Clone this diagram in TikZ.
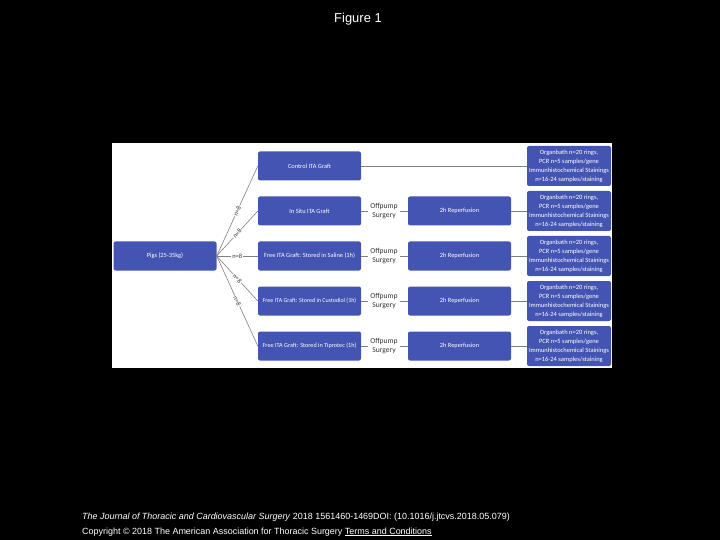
\documentclass[tikz,border=0pt]{standalone}
\usepackage{fontspec}
\setmainfont{Liberation Sans}
\newfontfamily\boxfont{Carlito}
\usetikzlibrary{positioning}

\definecolor{boxblue}{RGB}{68,84,178}
\definecolor{linegray}{RGB}{128,128,128}

\begin{document}
\begin{tikzpicture}
  [x=1bp,y=-1bp,every node/.style={font=\boxfont\fontsize{6.4}{9}\selectfont}]

  \tikzstyle{box} = [fill=boxblue,rounded corners=2bp,text=white,
                     minimum height=29bp,minimum width=103bp,inner sep=1bp,align=center]
  \tikzstyle{res} = [box,minimum width=84bp,minimum height=40bp,font=\boxfont\fontsize{6.5}{9}\selectfont]
  \tikzstyle{conn} = [draw=linegray,line width=0.6bp]
  \tikzstyle{lbl} = [fill=white,inner sep=0.8bp,text=black!80,font=\boxfont\fontsize{6.5}{7}\selectfont]
  \tikzstyle{surg} = [text=black!80,align=center,inner sep=2bp,font=\boxfont\fontsize{7.6}{9}\selectfont]

  % page and panel
  \fill[black] (0,0) rectangle (720,540);
  \useasboundingbox (0,0) rectangle (720,540);
  \fill[white] (112,143) rectangle (612,368);

  \node[font=\fontsize{13}{15}\selectfont,text=white] (title) at (358,19) {Figure 1};

  \node[box] (pigs) at (165,256) {Pigs (25-35kg)};

  \foreach \i/\txt in {1/Control ITA Graft,
                       2/In Situ ITA Graft,
                       3/{Free ITA Graft: Stored in Saline (1h)},
                       4/{\fontsize{6}{9}\selectfont Free ITA Graft: Stored in Custodiol (1h)},
                       5/{\fontsize{6.2}{9}\selectfont Free ITA Graft: Stored in Tiprotec (1h)}}
  {
    \node[box] (g\i) at (309.5,121+45*\i) {\txt};
    \node[res] (r\i) at (569,121+45*\i)
      {Organbath n=20 rings,\\PCR n=5 samples/gene\\Immunhistochemical Stainings\\n=16-24 samples/staining};
    \draw[conn] (pigs.east) -- node[lbl,sloped] {n=8} (g\i.west);
  }

  \foreach \i in {2,...,5}
  {
    \node[surg] (s\i) at (384,121+45*\i) {Offpump\\Surgery};
    \node[box] (p\i) at (459.5,121+45*\i) {2h Reperfusion};
    \path[conn] (g\i) edge (s\i)
                (s\i) edge (p\i)
                (p\i) edge (r\i);
  }

  \draw[conn] (g1) -- (r1);

  % citation
  \node[anchor=west,inner sep=0,text=white,font=\fontsize{9}{11}\selectfont] (cite) at (82,517)
    {\textit{The Journal of Thoracic and Cardiovascular Surgery} 2018 1561460-1469DOI: (10.1016/j.jtcvs.2018.05.079)};
  \node[anchor=west,inner sep=0,text=white,font=\fontsize{9}{11}\selectfont] (copy) at (82,532)
    {Copyright \textcopyright{} 2018 The American Association for Thoracic Surgery \underline{Terms and Conditions}};
\end{tikzpicture}
\end{document}
